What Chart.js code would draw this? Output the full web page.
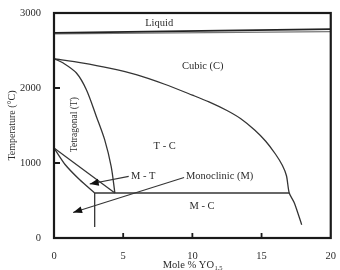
<!DOCTYPE html>
<html>
<head>
<meta charset="utf-8">
<script src="https://cdn.jsdelivr.net/npm/chart.js@4"></script>
<style>
  body { margin: 0; background: #fff; }
  canvas { display: block; }
</style>
</head>
<body>
<canvas id="myChart" width="340" height="270"></canvas>
<script>
// phase boundaries, x = mole % YO1.5, y = temperature (°C)
const liquidusX = [0, 20]
const liquidusT = [2735, 2785]
const solidusX = [0, 20]
const solidusT = [2722, 2752]

const cubicX = [0, 2, 4, 6, 8, 10, 11.2, 12.5, 13.5, 14.5, 15.3, 16, 16.5, 16.8, 17.0, 17.37, 17.9]
const cubicT = [2390, 2335, 2265, 2175, 2050, 1905, 1815, 1700, 1590, 1440, 1290, 1120, 970, 830, 600, 467, 177]

const tetraX = [0, 0.67, 1.62, 2.34, 3.06, 3.66, 4.13, 4.4]
const tetraT = [2390, 2333, 2200, 1977, 1621, 1311, 955, 600]

const mtUpperX = [0, 4.4]
const mtUpperT = [1200, 600]
const mtLowerX = [0, 0.8, 1.86, 2.94]
const mtLowerT = [1200, 980, 776, 600]

const eutX = [2.94, 17.0]
const eutT = [600, 600]
const vertX = [2.94, 2.94]
const vertT = [600, 147]

// leader lines with arrow heads (last point = tip)
const arrowMTX = [5.4, 2.58]
const arrowMTT = [822, 720]
const arrowMX = [9.4, 1.38]
const arrowMT = [808, 341]

// region labels
const labelText = ['Liquid', 'Cubic (C)', 'Tetragonal (T)', 'T - C', 'M - T', 'Monoclinic (M)', 'M - C']
const labelX = [7.6, 10.75, 1.5, 8.0, 6.45, 11.97, 10.7]
const labelT = [2857, 2288, 1511, 1221, 824, 817, 421]

const xTicks = [0, 5, 10, 15, 20]
const yTicks = [0, 1000, 2000, 3000]

const FONT = '"Liberation Serif", "DejaVu Serif", serif'
const INK = '#2b2b2b'

function pts(xs, ys) {
  return xs.map((x, i) => ({x: x, y: ys[i]}))
}

function line(xs, ys, extra) {
  return Object.assign({
    data: pts(xs, ys),
    showLine: true,
    borderColor: '#353535',
    borderWidth: 1.3,
    pointRadius: 0,
    fill: false
  }, extra || {})
}

const datasets = [
  line(liquidusX, liquidusT, {borderWidth: 1.8, borderColor: '#222'}),
  line(solidusX, solidusT, {borderWidth: 1.2, borderColor: '#777'}),
  line(cubicX, cubicT, {tension: 0.25}),
  line(tetraX, tetraT, {tension: 0.3}),
  line(mtUpperX, mtUpperT),
  line(mtLowerX, mtLowerT, {tension: 0.2}),
  line(eutX, eutT),
  line(vertX, vertT),
  line(arrowMTX, arrowMTT, {arrow: true, borderWidth: 1.1}),
  line(arrowMX, arrowMT, {arrow: true, borderWidth: 1.1})
]

const decor = {
  id: 'decor',
  afterDatasetsDraw(chart) {
    const ctx = chart.ctx
    const xs = chart.scales.x
    const ys = chart.scales.y
    const a = chart.chartArea
    ctx.save()

    // arrow heads
    chart.data.datasets.forEach((ds, i) => {
      if (!ds.arrow) return
      const d = chart.getDatasetMeta(i).data
      const p0 = d[d.length - 2], p1 = d[d.length - 1]
      const ang = Math.atan2(p1.y - p0.y, p1.x - p0.x)
      ctx.save()
      ctx.translate(p1.x, p1.y)
      ctx.rotate(ang)
      ctx.beginPath()
      ctx.moveTo(0, 0)
      ctx.lineTo(-9, -3.5)
      ctx.lineTo(-9, 3.5)
      ctx.closePath()
      ctx.fillStyle = '#111'
      ctx.fill()
      ctx.restore()
    })

    // frame
    ctx.strokeStyle = '#1a1a1a'
    ctx.lineWidth = 2.2
    ctx.strokeRect(a.left, a.top, a.right - a.left, a.bottom - a.top)

    // inward ticks
    ctx.lineWidth = 1.8
    ctx.beginPath()
    xTicks.slice(1, -1).forEach(v => {
      const px = xs.getPixelForValue(v)
      ctx.moveTo(px, a.bottom)
      ctx.lineTo(px, a.bottom - 5)
    })
    yTicks.slice(1, -1).forEach(v => {
      const py = ys.getPixelForValue(v)
      ctx.moveTo(a.left, py)
      ctx.lineTo(a.left + 6, py)
    })
    ctx.stroke()

    // region labels
    ctx.fillStyle = INK
    ctx.textAlign = 'center'
    ctx.textBaseline = 'middle'
    labelText.forEach((t, i) => {
      const px = xs.getPixelForValue(labelX[i])
      const py = ys.getPixelForValue(labelT[i])
      ctx.save()
      ctx.translate(px, py)
      if (t.startsWith('Tetragonal')) {
        ctx.rotate(-Math.PI / 2)
        ctx.font = '9.5px ' + FONT
      } else {
        ctx.font = '10.5px ' + FONT
      }
      ctx.fillText(t, 0, 0)
      ctx.restore()
    })

    // x axis title with subscript
    const main = 'Mole % YO'
    const sub = '1.5'
    ctx.font = '10.5px ' + FONT
    const w1 = ctx.measureText(main).width
    ctx.font = '6.5px ' + FONT
    const w2 = ctx.measureText(sub).width
    const cx = (a.left + a.right) / 2
    const x0 = cx - (w1 + w2) / 2
    ctx.textAlign = 'left'
    ctx.textBaseline = 'alphabetic'
    ctx.font = '10.5px ' + FONT
    ctx.fillText(main, x0, 268)
    ctx.font = '6.5px ' + FONT
    ctx.fillText(sub, x0 + w1 + 0.5, 270)
    ctx.restore()
  }
}

new Chart(document.getElementById('myChart'), {
  type: 'scatter',
  data: {datasets: datasets},
  options: {
    responsive: false,
    animation: false,
    layout: {padding: {top: 13, right: 7, left: 0, bottom: 0}},
    plugins: {legend: {display: false}, tooltip: {enabled: false}},
    scales: {
      x: {
        type: 'linear',
        min: 0,
        max: 20,
        afterFit: s => { s.height = 32 },
        afterBuildTicks: s => { s.ticks = xTicks.map(v => ({value: v})) },
        grid: {display: false},
        border: {display: false},
        ticks: {
          color: INK,
          padding: 4,
          maxRotation: 0,
          font: {family: FONT, size: 10.5},
          callback: v => String(v)
        }
      },
      y: {
        type: 'linear',
        min: 0,
        max: 3000,
        afterFit: s => { s.width = 54 },
        afterBuildTicks: s => { s.ticks = yTicks.map(v => ({value: v})) },
        grid: {display: false},
        border: {display: false},
        title: {
          display: true,
          text: 'Temperature (°C)',
          color: INK,
          padding: {top: 6, bottom: 0},
          font: {family: FONT, size: 10}
        },
        ticks: {
          color: INK,
          padding: 5,
          font: {family: FONT, size: 10.5},
          callback: v => String(v)
        }
      }
    }
  },
  plugins: [decor]
})
</script>
</body>
</html>
